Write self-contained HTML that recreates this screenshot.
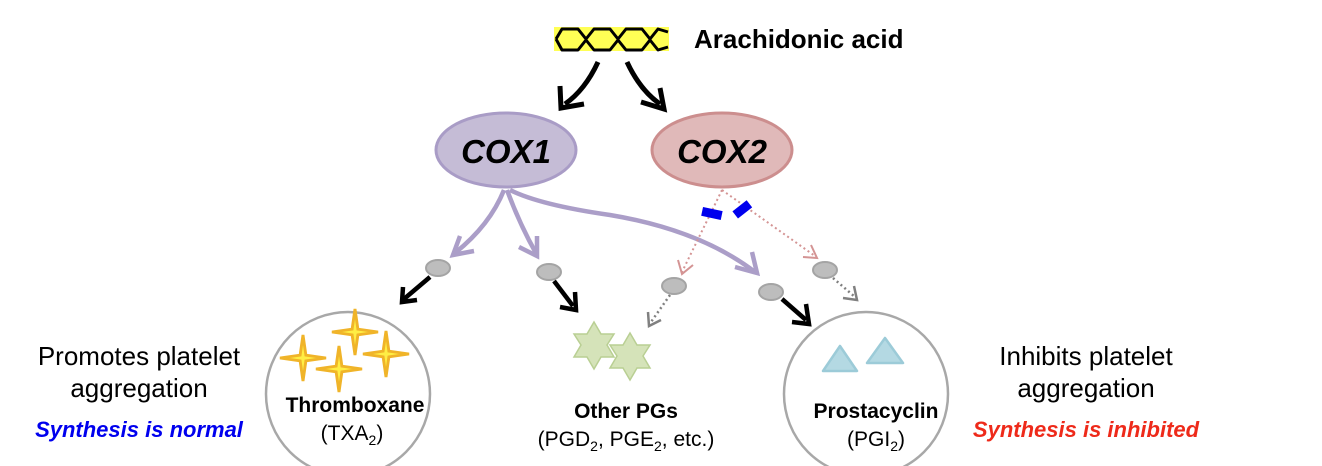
<!DOCTYPE html>
<html><head><meta charset="utf-8"><style>
html,body{margin:0;padding:0;background:#fff;}
svg{display:block;font-family:"Liberation Sans",Arial,sans-serif;}
</style></head><body>
<svg width="1322" height="466" viewBox="0 0 1322 466" xmlns="http://www.w3.org/2000/svg">
<defs>
<symbol id="star4" viewBox="-25 -25 50 50"><path d="M0,-24 L3,-3 L24,0 L3,3 L0,24 L-3,3 L-24,0 L-3,-3 Z" fill="#ffee44" stroke="#f0b429" stroke-width="3"/></symbol>
</defs>

<!-- arachidonic acid -->
<rect x="554" y="27" width="115" height="24" fill="#ffff55"/>
<path d="M556,39 L562,29 L578,29 L586,39 L594,29 L610,29 L618,39 L626,29 L642,29 L650,39 L658,29 L668,32 M556,39 L562,50 L578,50 L586,40 L594,50 L610,50 L618,40 L626,50 L642,50 L650,40 L658,50 L668,47" fill="none" stroke="#000" stroke-width="3" stroke-linejoin="round"/>
<text x="694" y="48" font-size="26" font-weight="bold">Arachidonic acid</text>

<!-- arrows from AA -->
<path d="M598,62 Q585,90 565,104" fill="none" stroke="#000" stroke-width="5"/>
<path d="M560,86 L561,108 L584,104" fill="none" stroke="#000" stroke-width="5"/>
<path d="M627,62 Q640,90 660,104" fill="none" stroke="#000" stroke-width="5"/>
<path d="M641,102 L664,109 L660,88" fill="none" stroke="#000" stroke-width="5"/>

<!-- COX ellipses -->
<ellipse cx="506" cy="150" rx="70" ry="37" fill="#c5bcd6" stroke="#a99cc6" stroke-width="3"/>
<text x="506" y="163" font-size="33" font-weight="bold" font-style="italic" text-anchor="middle">COX1</text>
<ellipse cx="722" cy="150" rx="70" ry="37" fill="#e0b9b9" stroke="#cc8e8e" stroke-width="3"/>
<text x="722" y="163" font-size="33" font-weight="bold" font-style="italic" text-anchor="middle">COX2</text>

<!-- purple arrows -->
<g fill="none" stroke="#ab9ec8" stroke-width="4.5">
<path d="M504,190 Q490,225 455,253"/>
<path d="M460,236 L453,255 L474,251"/>
<path d="M507,190 Q520,225 537,255"/>
<path d="M519,247 L537,256 L537,236"/>
<path d="M510,190 Q540,205 610,215 Q700,230 755,272"/>
<path d="M735,267 L757,273 L752,252"/>
</g>

<!-- pink dotted -->
<g fill="none" stroke="#d49494" stroke-width="2" stroke-dasharray="2,3">
<path d="M722,190 L682,272"/>
<path d="M722,190 L815,256"/>
</g>
<path d="M678,260 L682,274 L693,265" fill="none" stroke="#d49494" stroke-width="2"/>
<path d="M803,257 L817,258 L811,245" fill="none" stroke="#d49494" stroke-width="2"/>

<!-- blue bars -->
<rect x="702" y="209" width="20" height="9" fill="#0000ee" transform="rotate(12 712 213)"/>
<rect x="733" y="205" width="18" height="9" fill="#0000ee" transform="rotate(-38 742 209)"/>

<!-- gray ellipses -->
<g fill="#bdbdbd" stroke="#a4a4a4" stroke-width="2">
<ellipse cx="438" cy="268" rx="12" ry="8"/>
<ellipse cx="549" cy="272" rx="12" ry="8"/>
<ellipse cx="674" cy="286" rx="12" ry="8"/>
<ellipse cx="771" cy="292" rx="12" ry="8"/>
<ellipse cx="825" cy="270" rx="12" ry="8"/>
</g>

<!-- black arrows -->
<g fill="none" stroke="#000" stroke-width="4.5">
<path d="M430,277 L404,299"/>
<path d="M403,287 L402,302 L417,300"/>
<path d="M554,281 L573,306"/>
<path d="M575,292 L576,310 L560,307"/>
<path d="M782,299 L806,320"/>
<path d="M806,304 L809,324 L792,322"/>
</g>
<!-- gray dotted -->
<g fill="none" stroke="#808080" stroke-width="2.5">
<path d="M670,295 L651,322" stroke-dasharray="2,3"/>
<path d="M648,312 L649,326 L661,320"/>
<path d="M833,278 L855,297" stroke-dasharray="2,3"/>
<path d="M843,298 L857,300 L854,286"/>
</g>

<!-- circles -->
<circle cx="348" cy="394" r="82" fill="#fff" stroke="#a8a8a8" stroke-width="2.5"/>
<circle cx="866" cy="394" r="82" fill="#fff" stroke="#a8a8a8" stroke-width="2.5"/>

<!-- stars -->
<use href="#star4" x="331" y="308" width="48" height="48"/>
<use href="#star4" x="362" y="330" width="48" height="48"/>
<use href="#star4" x="279" y="334" width="48" height="48"/>
<use href="#star4" x="315" y="345" width="48" height="48"/>

<!-- green stars -->
<g fill="#d5e3b9" stroke="#b9cf93" stroke-width="1.5">
<path d="M594,322 L601,334 L614,334 L607,345 L614,357 L601,357 L594,369 L587,357 L574,357 L581,345 L574,334 L587,334 Z"/>
<path d="M630,337 L637,349 L650,349 L643,360 L650,372 L637,372 L630,384 L623,372 L610,372 L617,360 L610,349 L623,349 Z" transform="translate(0,-4)"/>
</g>

<!-- triangles -->
<g fill="#b4d9e3" stroke="#9ccbd8" stroke-width="2.5" stroke-linejoin="round">
<path d="M840,346 L857,371 L823,371 Z"/>
<path d="M885,338 L903,363 L867,363 Z"/>
</g>

<!-- labels -->
<text x="355" y="412" font-size="21" font-weight="bold" text-anchor="middle">Thromboxane</text>
<text x="352" y="440" font-size="21" text-anchor="middle">(TXA<tspan font-size="14" dy="5">2</tspan><tspan dy="-5">)</tspan></text>
<text x="626" y="418" font-size="21" font-weight="bold" text-anchor="middle">Other PGs</text>
<text x="626" y="446" font-size="21" text-anchor="middle">(PGD<tspan font-size="14" dy="5">2</tspan><tspan dy="-5">, PGE</tspan><tspan font-size="14" dy="5">2</tspan><tspan dy="-5">, etc.)</tspan></text>
<text x="876" y="418" font-size="21" font-weight="bold" text-anchor="middle">Prostacyclin</text>
<text x="876" y="446" font-size="21" text-anchor="middle">(PGI<tspan font-size="14" dy="5">2</tspan><tspan dy="-5">)</tspan></text>

<text x="139" y="365" font-size="26" text-anchor="middle">Promotes platelet</text>
<text x="139" y="397" font-size="26" text-anchor="middle">aggregation</text>
<text x="139" y="437" font-size="22" font-weight="bold" font-style="italic" fill="#0000ee" text-anchor="middle">Synthesis is normal</text>

<text x="1086" y="365" font-size="26" text-anchor="middle">Inhibits platelet</text>
<text x="1086" y="397" font-size="26" text-anchor="middle">aggregation</text>
<text x="1086" y="437" font-size="22" font-weight="bold" font-style="italic" fill="#ee2a1a" text-anchor="middle">Synthesis is inhibited</text>
</svg>
</body></html>
